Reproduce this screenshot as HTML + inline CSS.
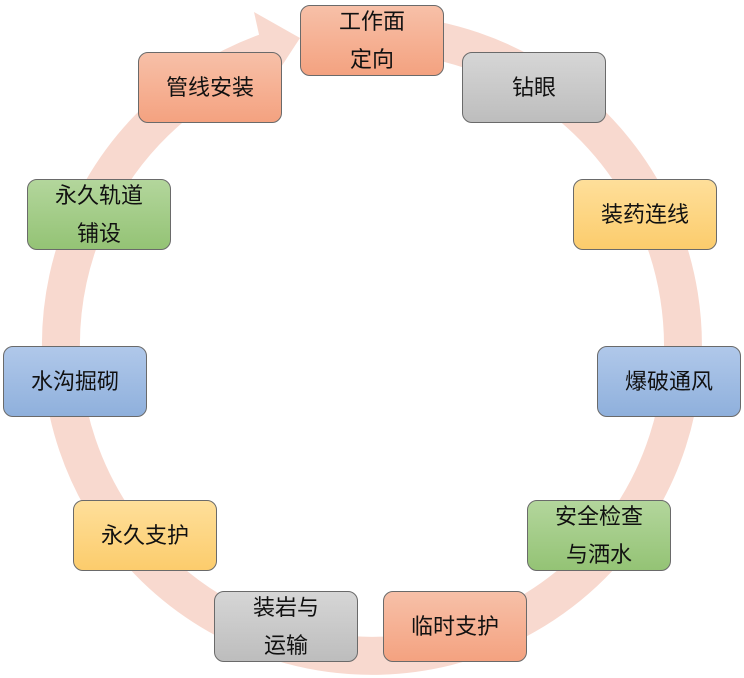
<!DOCTYPE html>
<html><head><meta charset="utf-8"><style>
body{margin:0;width:744px;height:678px;background:#fff;position:relative;overflow:hidden;font-family:"Liberation Sans","Noto Sans CJK SC",sans-serif}
.b{position:absolute;width:144px;height:71px;border:1px solid #6a6a6a;border-radius:10px;box-sizing:border-box;display:flex;align-items:center;justify-content:center;text-align:center;font-size:22px;line-height:38px;color:#111}
.s{background:linear-gradient(#f7c0a8,#f4a280)}
.g{background:linear-gradient(#d6d6d6,#bdbdbd)}
.y{background:linear-gradient(#fedf9a,#fccc6c)}
.u{background:linear-gradient(#b0c8ea,#8fb0dc)}
.n{background:linear-gradient(#b3d69c,#94c375)}
</style></head><body>
<svg width="744" height="678" style="position:absolute;left:0;top:0">
<path d="M 327.7 37 A 311 311 0 1 1 267.2 52" fill="none" stroke="#f8d9cf" stroke-width="38"/>
<polygon points="254,12 300,38 270,84" fill="#f8d9cf"/>
</svg>
<div class="b s" style="left:300px;top:5px">工作面<br>定向</div>
<div class="b g" style="left:462px;top:52px">钻眼</div>
<div class="b y" style="left:573px;top:179px">装药连线</div>
<div class="b u" style="left:597px;top:346px">爆破通风</div>
<div class="b n" style="left:527px;top:500px">安全检查<br>与洒水</div>
<div class="b s" style="left:383px;top:591px">临时支护</div>
<div class="b g" style="left:214px;top:591px">装岩与<br>运输</div>
<div class="b y" style="left:73px;top:500px">永久支护</div>
<div class="b u" style="left:3px;top:346px">水沟掘砌</div>
<div class="b n" style="left:27px;top:179px">永久轨道<br>铺设</div>
<div class="b s" style="left:138px;top:52px">管线安装</div>
</body></html>
